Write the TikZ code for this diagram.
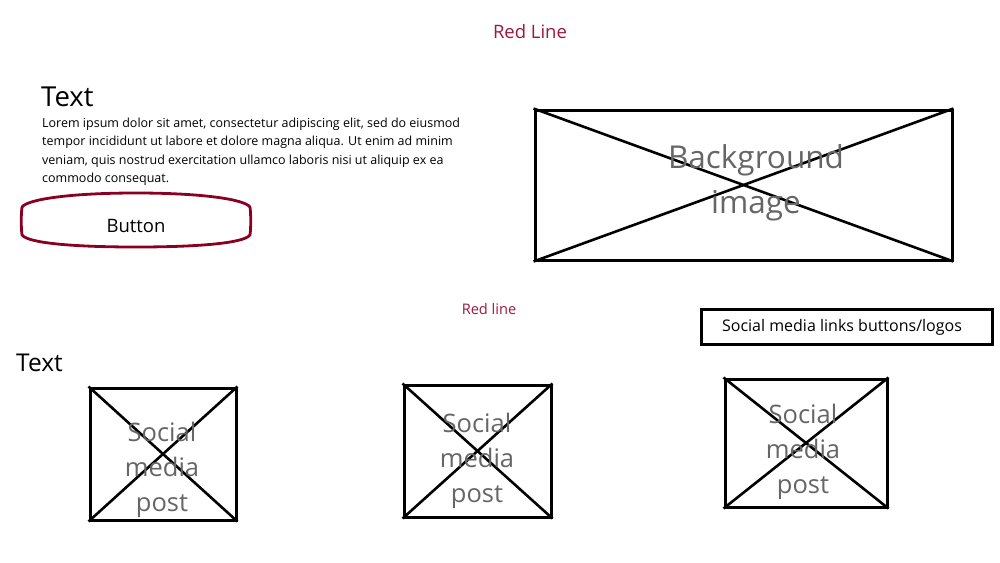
\documentclass[tikz,border=0pt]{standalone}
\usepackage{fontspec}
\setmainfont{Open Sans}
\definecolor{redline}{HTML}{A0173E}
\definecolor{btnred}{HTML}{8A0022}
\definecolor{phgray}{HTML}{666666}
\begin{document}
\begin{tikzpicture}[x=1pt,y=-1pt,
  box/.style={draw=black,line width=3pt},
  diag/.style={draw=black,line width=2.6pt},
  phtext/.style={text=phgray,align=center,inner sep=0pt},
  redlbl/.style={text=redline,inner sep=0pt}]
\useasboundingbox (0,0) rectangle (1000,562);
\fill[white] (0,0) rectangle (1000,562);

\node[redlbl,font=\fontsize{18.5}{22}\selectfont] (rl1) at (530,32) {Red Line};

\node[anchor=base west,inner sep=0pt,font=\fontsize{27.5}{32}\selectfont] (t1) at (41,106) {Text};
\node[anchor=north west,inner sep=0pt,align=left,font=\fontsize{12.5}{18.2}\selectfont] (lorem) at (42,118)
 {Lorem ipsum dolor sit amet, consectetur adipiscing elit, sed do eiusmod\\
  tempor incididunt ut labore et dolore magna aliqua. Ut enim ad minim\\
  veniam, quis nostrud exercitation ullamco laboris nisi ut aliquip ex ea\\
  commodo consequat.};

\coordinate (b0) at (136,193);
\coordinate (b2) at (250,207);
\coordinate (b3) at (250,235);
\coordinate (b5) at (136,247);
\coordinate (b4) at (22,235);
\coordinate (b1) at (22,207);
\draw[btnred,line width=2.8pt,line join=round] (b0) .. controls (200,193) and (244,199) .. (b2)
  .. controls (251,215) and (251,227) .. (b3)
  .. controls (244,243) and (200,247) .. (b5)
  .. controls (72,247) and (28,243) .. (b4)
  .. controls (21,227) and (21,215) .. (b1)
  .. controls (28,199) and (72,193) .. cycle;
\node[inner sep=0pt,font=\fontsize{18.5}{22}\selectfont] (btn) at (136,226) {Button};

\node[box,minimum width=417pt,minimum height=150pt,inner sep=0pt] (bg) at (743.5,185) {};
\draw[diag] (bg.north west) -- (bg.south east);
\draw[diag] (bg.south west) -- (bg.north east);
\node[phtext,font=\fontsize{31.5}{45}\selectfont] (bgt) at (756,183) {Background\\image};

\node[redlbl,font=\fontsize{14.6}{17}\selectfont] (rl2) at (489,309) {Red line};

\node[box,minimum width=291pt,minimum height=35pt,inner sep=0pt] (soc) at (846.5,326.5) {};
\node[inner sep=0pt,font=\fontsize{16}{19}\selectfont] (soct) at (842,327) {Social media links buttons/logos};

\node[anchor=base west,inner sep=0pt,font=\fontsize{24.5}{28}\selectfont] (t2) at (16,371) {Text};

\node[box,minimum width=146pt,minimum height=132pt,inner sep=0pt] (p1) at (163,454) {};
\draw[diag] (p1.north west) -- (p1.south east);
\draw[diag] (p1.south west) -- (p1.north east);
\node[phtext,font=\fontsize{25.5}{35}\selectfont] (p1t) at (162,470) {Social\\media\\post};

\node[box,minimum width=147pt,minimum height=132pt,inner sep=0pt] (p2) at (477.5,451) {};
\draw[diag] (p2.north west) -- (p2.south east);
\draw[diag] (p2.south west) -- (p2.north east);
\node[phtext,font=\fontsize{25.5}{35}\selectfont] (p2t) at (477,461) {Social\\media\\post};

\node[box,minimum width=162pt,minimum height=128pt,inner sep=0pt] (p3) at (806,443) {};
\draw[diag] (p3.north west) -- (p3.south east);
\draw[diag] (p3.south west) -- (p3.north east);
\node[phtext,font=\fontsize{25.5}{35}\selectfont] (p3t) at (803,452) {Social\\media\\post};
\end{tikzpicture}
\end{document}
